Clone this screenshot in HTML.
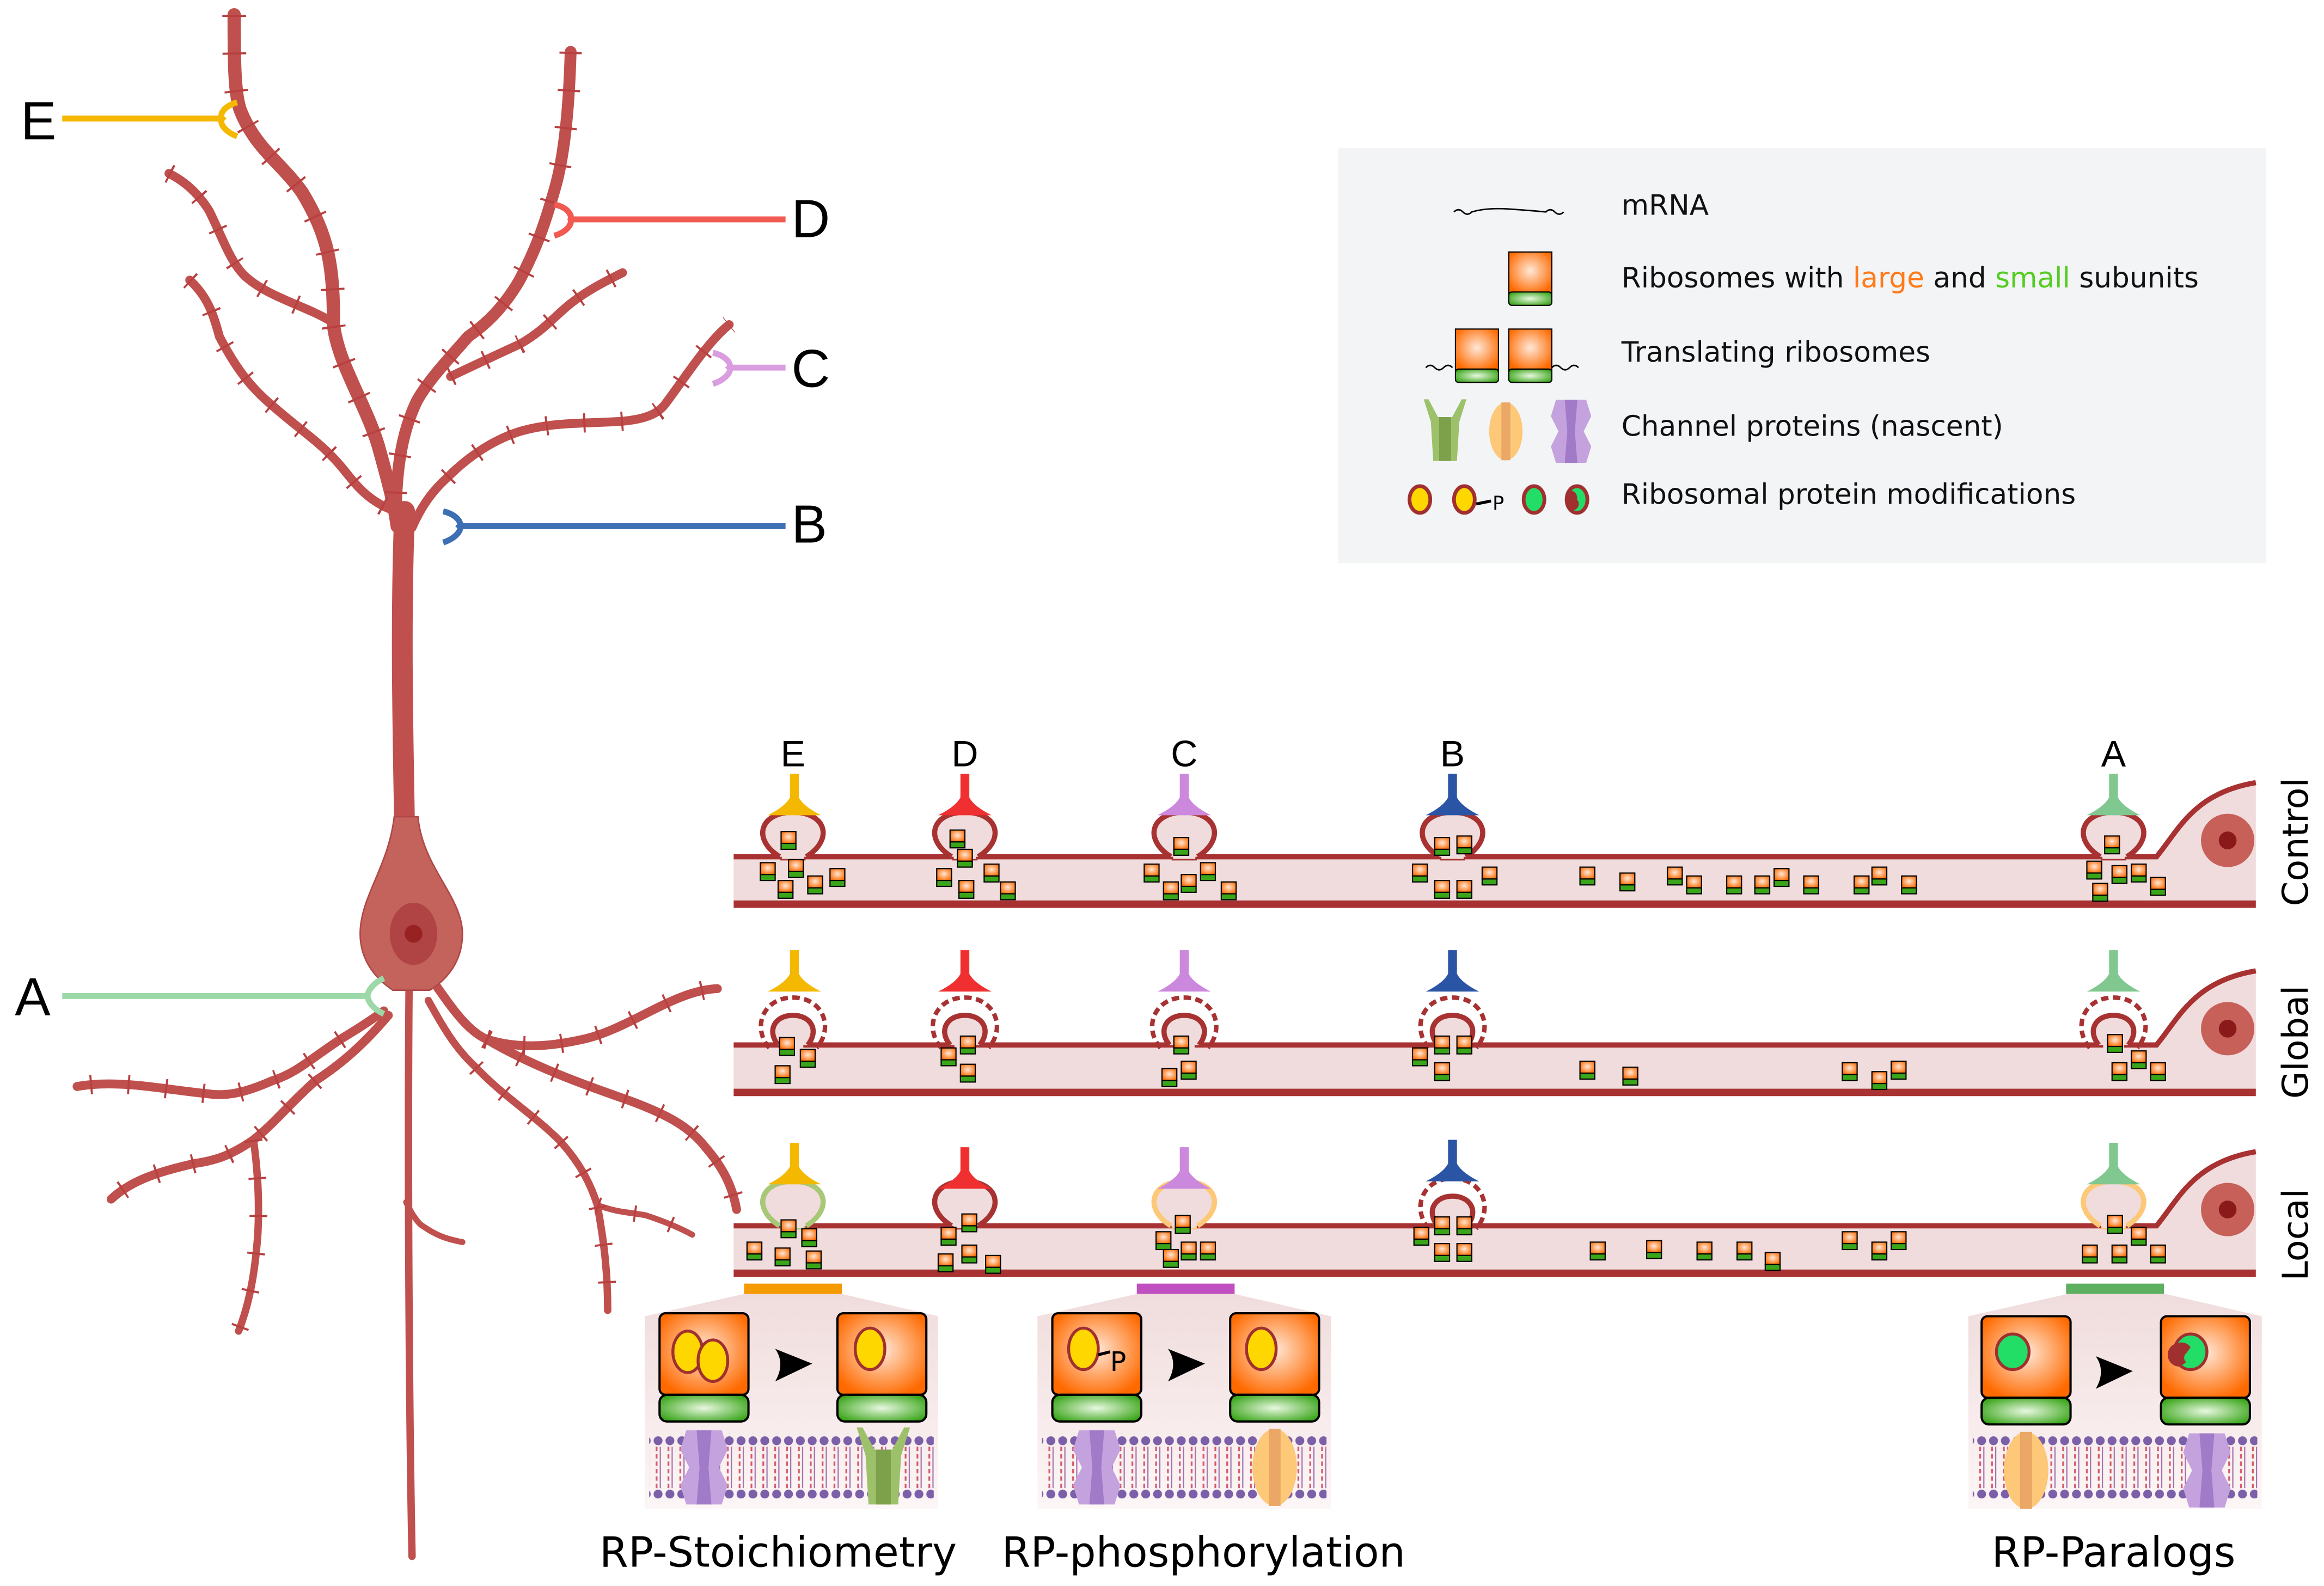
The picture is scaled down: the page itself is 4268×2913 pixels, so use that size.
<!DOCTYPE html>
<html><head><meta charset="utf-8"><style>html,body{margin:0;padding:0;background:#fff}svg{display:block}</style></head>
<body>
<svg width="4268" height="2913" viewBox="0 0 1568 1070" preserveAspectRatio="none" xmlns="http://www.w3.org/2000/svg" font-family="DejaVu Sans, Liberation Sans, sans-serif">
<defs>
<radialGradient id="og" cx="0.5" cy="0.45" r="0.6"><stop offset="0" stop-color="#ffe8d8"/><stop offset="1" stop-color="#ff6a00"/></radialGradient>
<radialGradient id="gg" cx="0.5" cy="0.5" r="0.6"><stop offset="0" stop-color="#e8f8e0"/><stop offset="1" stop-color="#3aa51a"/></radialGradient>
<g id="r"><rect x="-5" y="-6" width="10" height="8" fill="url(#og)" stroke="#000" stroke-width="0.8"/><rect x="-5" y="2" width="10" height="4" fill="#3aa51a" stroke="#000" stroke-width="0.8"/></g>
<g id="bigr"><rect x="0" y="0" width="60" height="55" rx="4" fill="url(#og)" stroke="#000" stroke-width="1.5"/><rect x="0" y="55" width="60" height="18" rx="5" fill="url(#gg)" stroke="#000" stroke-width="1.5"/></g>
<g id="purp"><path d="M-12,-25 L12,-25 L16,-12 L10,0 L16,12 L12,25 L-12,25 L-16,12 L-10,0 L-16,-12 Z" fill="#c4a2de"/><path d="M-5,-25 L5,-25 L3,0 L5,25 L-5,25 L-3,0Z" fill="#a17ac8"/></g>
<g id="grn"><path d="M-18,-27 L-12,-8 L-10,25 L10,25 L12,-8 L18,-27 L14,-27 L6,-12 L-6,-12 L-14,-27Z" fill="#9dc06a"/><rect x="-5" y="-12" width="10" height="37" fill="#7da04a"/></g>
<g id="orn"><ellipse cx="0" cy="0" rx="15" ry="26" fill="#fdc877"/><rect x="-4" y="-26" width="8" height="52" fill="#eba766"/></g>
<pattern id="mem" x="0" y="0" width="8" height="44" patternUnits="userSpaceOnUse"><circle cx="4" cy="4" r="3" fill="#7b5fa8"/><line x1="3" y1="8" x2="3" y2="36" stroke="#d45a6a" stroke-width="1.2" stroke-dasharray="3 2"/><line x1="5.5" y1="8" x2="5.5" y2="36" stroke="#a070b0" stroke-width="0.8"/><circle cx="4" cy="40" r="3" fill="#7b5fa8"/></pattern>
</defs>

<!-- Neuron -->
<g fill="none" stroke="#c0504d" stroke-linecap="round">
<path d="M158,10 C158,40 158,62 162,74 C172,100 190,110 204,130 C222,160 225,180 225,219 C228,245 246,271 255,300 C262,325 266,340 268,355" stroke-width="9"/>
<path d="M114,117 C128,124 136,134 141,142 C150,160 155,176 165,186 C180,200 205,206 222,216" stroke-width="6"/>
<path d="M128,189 C140,200 144,212 148,227 C160,250 170,262 183,273 C200,288 215,298 225,309 C236,320 242,334 262,343" stroke-width="6"/>
<path d="M385,35 C384,70 381,103 375,125 C368,150 362,168 350,190 C338,210 326,220 316,227 C300,245 288,258 281,271 C272,290 267,314 267,351" stroke-width="8"/>
<path d="M304,254 C325,244 338,238 351,232 C365,224 372,216 380,209 C392,198 408,190 420,184" stroke-width="6"/>
<path d="M278,356 C285,340 293,330 302,322 C318,306 335,296 351,291 C375,284 400,286 422,284 C440,282 446,277 450,271 C462,255 478,230 492,219" stroke-width="6"/>
<path d="M273,560 C272,500 270,420 273,345" stroke-width="14"/>
<path d="M259,682 C245,692 238,696 230,701 C210,714 200,724 184,729 C168,736 155,740 141,738 C110,735 80,728 52,733" stroke-width="6"/>
<path d="M262,685 C245,705 230,718 213,729 C195,745 185,758 171,769 C155,780 145,783 131,785 C110,790 90,795 75,809" stroke-width="6"/>
<path d="M171,769 C174,790 175,812 174,832 C172,860 168,880 161,898" stroke-width="5"/>
<path d="M295,666 C305,680 315,695 328,701 C350,708 372,706 394,701 C425,694 455,668 484,667" stroke-width="6"/>
<path d="M328,701 C360,720 395,732 426,743 C450,752 465,760 476,774 C488,788 494,800 497,816" stroke-width="6"/>
<path d="M289,675 C300,695 308,708 321,720 C340,740 360,752 377,769 C390,783 398,797 403,813 C408,840 410,860 410,884" stroke-width="5"/>
<path d="M403,813 C416,818 426,818 436,820 C448,824 458,828 467,833" stroke-width="4"/>
<path d="M274,811 C278,820 283,826 285,827 C295,834 302,836 312,838" stroke-width="4"/>
<path d="M276,666 C275,780 276,950 278,1050" stroke-width="5"/>
</g>
<g fill="none" stroke="#b84040" stroke-width="13" stroke-dasharray="1.4 24">
<path d="M158,10 C158,40 158,62 162,74 C172,100 190,110 204,130 C222,160 225,180 225,219 C228,245 246,271 255,300" stroke-width="16"/>
<path d="M114,117 C128,124 136,134 141,142 C150,160 155,176 165,186 C180,200 205,206 222,216"/>
<path d="M128,189 C140,200 144,212 148,227 C160,250 170,262 183,273 C200,288 215,298 225,309 C236,320 242,334 262,343"/>
<path d="M385,35 C384,70 381,103 375,125 C368,150 362,168 350,190 C338,210 326,220 316,227 C300,245 288,258 281,271 C272,290 267,314 267,340" stroke-width="15"/>
<path d="M304,254 C325,244 338,238 351,232 C365,224 372,216 380,209 C392,198 408,190 420,184"/>
<path d="M302,322 C318,306 335,296 351,291 C375,284 400,286 422,284 C440,282 446,277 450,271 C462,255 478,230 492,219"/>
<path d="M230,701 C210,714 200,724 184,729 C168,736 155,740 141,738 C110,735 80,728 52,733"/>
<path d="M213,729 C195,745 185,758 171,769 C155,780 145,783 131,785 C110,790 90,795 75,809"/>
<path d="M171,769 C174,790 175,812 174,832 C172,860 168,880 161,898" stroke-width="12"/>
<path d="M328,701 C350,708 372,706 394,701 C425,694 455,668 484,667"/>
<path d="M328,701 C360,720 395,732 426,743 C450,752 465,760 476,774 C488,788 494,800 497,816"/>
<path d="M321,720 C340,740 360,752 377,769 C390,783 398,797 403,813 C408,840 410,860 410,884" stroke-width="12"/>
<path d="M403,813 C416,818 426,818 436,820 C448,824 458,828 467,833" stroke-width="11"/>
</g>
<path d="M266,551 C262,585 243,605 243,630 C243,650 256,662 265,668 L290,668 C300,662 312,650 312,630 C312,605 285,585 282,551 Z" fill="#c4625c" stroke="#b04848" stroke-width="1"/>
<ellipse cx="279" cy="630" rx="16" ry="21" fill="#b04444"/><circle cx="279" cy="630" r="6" fill="#982222"/>

<!-- Inputs -->
<g fill="none" stroke-width="4">
<path d="M42,80 H150" stroke="#f5b800"/><path d="M160,69 C150,72 148,78 150,80 C148,82 150,88 160,92" stroke="#f5b800"/>
<path d="M385,148 H530" stroke="#f05a50"/><path d="M374,138 C384,140 386,146 385,148 C386,150 384,156 374,159" stroke="#f05a50"/>
<path d="M492,248 H530" stroke="#d99de0"/><path d="M481,238 C490,240 494,246 492,248 C494,250 490,256 481,259" stroke="#d99de0"/>
<path d="M310,355 H530" stroke="#3d6fb5"/><path d="M299,345 C308,347 312,353 310,355 C312,357 308,363 299,366" stroke="#3d6fb5"/>
<path d="M42,672 H248" stroke="#9dd8a8"/><path d="M259,660 C250,664 248,670 248,672 C248,674 250,680 259,684" stroke="#9dd8a8"/>
</g>
<g font-family="Liberation Sans, sans-serif" font-size="36" fill="#000">
<text x="14" y="94">E</text><text x="534" y="160">D</text><text x="534" y="261">C</text><text x="534" y="366">B</text><text x="10" y="685">A</text>
</g>

<!-- Legend -->
<rect x="903" y="100" width="626" height="280" fill="#f3f4f6"/>
<path d="M981,143 q3,-3 6,0 t6,0 q10,-3 25,-2 q15,1 25,2 q3,-3 6,0 t6,0" fill="none" stroke="#000" stroke-width="1"/>
<rect x="1018" y="170" width="29" height="28" fill="url(#og)" stroke="#000" stroke-width="0.8"/><rect x="1018" y="197" width="29" height="9" rx="2" fill="url(#gg)" stroke="#000" stroke-width="0.8"/>
<rect x="982" y="222" width="29" height="28" fill="url(#og)" stroke="#000" stroke-width="0.8"/><rect x="982" y="249" width="29" height="9" rx="2" fill="url(#gg)" stroke="#000" stroke-width="0.8"/>
<rect x="1018" y="222" width="29" height="28" fill="url(#og)" stroke="#000" stroke-width="0.8"/><rect x="1018" y="249" width="29" height="9" rx="2" fill="url(#gg)" stroke="#000" stroke-width="0.8"/>
<path d="M962,248 q3,-3 6,0 t6,0 t6,0 M1047,248 q3,-3 6,0 t6,0 t6,0" fill="none" stroke="#000" stroke-width="1"/>
<g transform="translate(975,291) scale(0.8)"><use href="#grn"/></g>
<g transform="translate(1016,291) scale(0.75)"><use href="#orn"/></g>
<g transform="translate(1060,291) scale(0.85)"><use href="#purp"/></g>
<g stroke="#a03030" stroke-width="2.5"><ellipse cx="958" cy="337" rx="7" ry="9" fill="#ffd700"/><ellipse cx="988" cy="337" rx="7" ry="9" fill="#ffd700"/><ellipse cx="1035" cy="337" rx="7" ry="9" fill="#22dd66"/><ellipse cx="1064" cy="337" rx="7" ry="9" fill="#22dd66"/></g>
<path d="M1058,331 a5,5 0 0 1 6,6 a4,4 0 0 1 -6,6 z" fill="#a03030"/>
<path d="M996,340 L1006,338" stroke="#000" stroke-width="2"/><text x="1007" y="344" font-size="13">P</text>
<g font-size="19" fill="#111">
<text x="1094" y="145">mRNA</text>
<text x="1094" y="194">Ribosomes with <tspan fill="#ff7a1a">large</tspan> and <tspan fill="#55cc22">small</tspan> subunits</text>
<text x="1094" y="244">Translating ribosomes</text>
<text x="1094" y="294">Channel proteins (nascent)</text>
<text x="1094" y="340">Ribosomal protein modifications</text>
</g>

<!-- Strips -->
<g id="strip">
<rect x="495" y="578" width="1000" height="32" fill="#f0dcdc"/>
<path d="M1455,578 C1470,560 1480,535 1522,528 L1522,610 L1455,610Z" fill="#f0dcdc"/>
<path d="M495,578 H1455 C1470,560 1480,535 1522,528" fill="none" stroke="#a83232" stroke-width="3.5"/>
<line x1="495" y1="610" x2="1522" y2="610" stroke="#a83232" stroke-width="5"/>
<circle cx="1503" cy="567" r="18" fill="#c8605a"/><circle cx="1503" cy="567" r="6" fill="#8a1a1a"/>
</g>
<use href="#strip" y="127"/>
<use href="#strip" y="249"/>
<g font-size="24" fill="#000" font-family="DejaVu Sans, sans-serif">
<text transform="translate(1557,568) rotate(-90)" text-anchor="middle">Control</text>
<text transform="translate(1557,703) rotate(-90)" text-anchor="middle">Global</text>
<text transform="translate(1557,833) rotate(-90)" text-anchor="middle">Local</text>
</g>
<g font-family="Liberation Sans, sans-serif" font-size="25" text-anchor="middle">
<text x="535" y="517">E</text><text x="651" y="517">D</text><text x="799" y="517">C</text><text x="980" y="517">B</text><text x="1426" y="517">A</text>
</g>

<defs>
<g id="sp"><rect x="-8" y="-4" width="16" height="6" fill="#f0dcdc"/><path d="M-9,0 C-28,-12 -22,-30 0,-30 C22,-30 28,-12 9,0" fill="#f0dcdc" stroke-width="3.5"/></g>
<g id="spg"><rect x="-7" y="-4" width="14" height="6" fill="#f0dcdc"/><path d="M-10,0 C-18,-10 -12,-20 0,-20 C12,-20 18,-10 10,0" fill="#f0dcdc" stroke="#a83232" stroke-width="3.5"/><path d="M-16,2 C-28,-12 -20,-32 0,-32 C20,-32 28,-12 16,2" fill="none" stroke="#a83232" stroke-width="3" stroke-dasharray="5 3"/></g>
<path id="pre" d="M-3,-56 L3,-56 L3,-40 Q6,-34 18,-28 L-18,-28 Q-6,-34 -3,-40Z"/>
</defs>
<g stroke="#a83232"><use href="#sp" x="535" y="578"/><use href="#sp" x="651" y="578"/><use href="#sp" x="799" y="578"/><use href="#sp" x="980" y="578"/><use href="#sp" x="1426" y="578"/></g>
<use href="#pre" x="536" y="578" fill="#f5b800"/><use href="#pre" x="651" y="578" fill="#f03030"/><use href="#pre" x="799" y="578" fill="#cc88dd"/><use href="#pre" x="980" y="578" fill="#2a55a5"/><use href="#pre" x="1426" y="578" fill="#80c890"/>
<use href="#spg" x="535" y="705"/><use href="#spg" x="651" y="705"/><use href="#spg" x="799" y="705"/><use href="#spg" x="980" y="705"/><use href="#spg" x="1426" y="705"/>
<use href="#pre" x="536" y="697" fill="#f5b800"/><use href="#pre" x="651" y="697" fill="#f03030"/><use href="#pre" x="799" y="697" fill="#cc88dd"/><use href="#pre" x="980" y="697" fill="#2a55a5"/><use href="#pre" x="1426" y="697" fill="#80c890"/>
<use href="#sp" x="535" y="827" stroke="#a8c878"/><use href="#sp" x="651" y="827" stroke="#a83232"/><use href="#sp" x="799" y="827" stroke="#fdc877"/><use href="#spg" x="980" y="827"/><use href="#sp" x="1426" y="827" stroke="#fdc877"/>
<use href="#pre" x="536" y="827" fill="#f5b800"/><use href="#pre" x="651" y="830" fill="#f03030"/><use href="#pre" x="799" y="830" fill="#cc88dd"/><use href="#pre" x="980" y="825" fill="#2a55a5"/><use href="#pre" x="1426" y="827" fill="#80c890"/>

<g>
<use href="#r" x="532" y="567"/><use href="#r" x="518" y="588"/><use href="#r" x="537" y="586"/><use href="#r" x="530" y="600"/><use href="#r" x="550" y="597"/><use href="#r" x="565" y="592"/>
<use href="#r" x="646" y="566"/><use href="#r" x="651" y="579"/><use href="#r" x="637" y="592"/><use href="#r" x="652" y="600"/><use href="#r" x="669" y="589"/><use href="#r" x="680" y="601"/>
<use href="#r" x="797" y="571"/><use href="#r" x="777" y="589"/><use href="#r" x="790" y="601"/><use href="#r" x="802" y="596"/><use href="#r" x="815" y="588"/><use href="#r" x="829" y="601"/>
<use href="#r" x="973" y="571"/><use href="#r" x="988" y="570"/><use href="#r" x="958" y="589"/><use href="#r" x="973" y="600"/><use href="#r" x="988" y="600"/><use href="#r" x="1005" y="591"/>
<use href="#r" x="1071" y="591"/><use href="#r" x="1098" y="595"/><use href="#r" x="1130" y="591"/><use href="#r" x="1143" y="597"/><use href="#r" x="1170" y="597"/><use href="#r" x="1189" y="597"/><use href="#r" x="1202" y="592"/><use href="#r" x="1222" y="597"/><use href="#r" x="1256" y="597"/><use href="#r" x="1268" y="591"/><use href="#r" x="1288" y="597"/>
<use href="#r" x="1425" y="570"/><use href="#r" x="1413" y="587"/><use href="#r" x="1430" y="590"/><use href="#r" x="1443" y="589"/><use href="#r" x="1417" y="602"/><use href="#r" x="1456" y="598"/>
<use href="#r" x="531" y="706"/><use href="#r" x="545" y="714"/><use href="#r" x="528" y="725"/>
<use href="#r" x="640" y="713"/><use href="#r" x="653" y="705"/><use href="#r" x="653" y="724"/>
<use href="#r" x="797" y="705"/><use href="#r" x="789" y="727"/><use href="#r" x="802" y="722"/>
<use href="#r" x="958" y="713"/><use href="#r" x="973" y="705"/><use href="#r" x="988" y="705"/><use href="#r" x="973" y="723"/>
<use href="#r" x="1071" y="722"/><use href="#r" x="1100" y="726"/><use href="#r" x="1248" y="723"/><use href="#r" x="1268" y="729"/><use href="#r" x="1281" y="722"/>
<use href="#r" x="1427" y="704"/><use href="#r" x="1443" y="715"/><use href="#r" x="1430" y="723"/><use href="#r" x="1456" y="723"/>
<use href="#r" x="532" y="829"/><use href="#r" x="546" y="835"/><use href="#r" x="509" y="844"/><use href="#r" x="528" y="848"/><use href="#r" x="549" y="850"/>
<use href="#r" x="654" y="825"/><use href="#r" x="640" y="834"/><use href="#r" x="654" y="846"/><use href="#r" x="638" y="852"/><use href="#r" x="670" y="853"/>
<use href="#r" x="798" y="826"/><use href="#r" x="785" y="837"/><use href="#r" x="802" y="844"/><use href="#r" x="815" y="844"/><use href="#r" x="790" y="849"/>
<use href="#r" x="959" y="834"/><use href="#r" x="973" y="827"/><use href="#r" x="988" y="827"/><use href="#r" x="973" y="845"/><use href="#r" x="988" y="845"/>
<use href="#r" x="1078" y="844"/><use href="#r" x="1116" y="843"/><use href="#r" x="1150" y="844"/><use href="#r" x="1177" y="844"/><use href="#r" x="1196" y="851"/><use href="#r" x="1248" y="837"/><use href="#r" x="1268" y="844"/><use href="#r" x="1281" y="837"/>
<use href="#r" x="1427" y="826"/><use href="#r" x="1443" y="834"/><use href="#r" x="1410" y="846"/><use href="#r" x="1430" y="846"/><use href="#r" x="1456" y="846"/>
</g>

<rect x="502" y="866" width="66" height="7" fill="#f59a00"/>
<rect x="767" y="866" width="66" height="7" fill="#c050c0"/>
<rect x="1394" y="866" width="66" height="7" fill="#5cb060"/>
<g id="panel">
<defs><linearGradient id="pg" x1="0" y1="0" x2="0" y2="1"><stop offset="0" stop-color="#f0dcdc"/><stop offset="1" stop-color="#fdf6f6"/></linearGradient></defs>
<path d="M502,873 L568,873 L633,888 L633,1018 L435,1018 L435,888 Z" fill="url(#pg)"/>
<rect x="438" y="967" width="192" height="44" fill="url(#mem)"/>
</g>
<use href="#panel" x="265"/>
<use href="#panel" x="893"/>
<use href="#bigr" x="445" y="886"/><use href="#bigr" x="565" y="886"/>
<path d="M523,910 L548,920 L523,932 Q530,920 523,910Z" fill="#000"/>
<g stroke="#a03030" stroke-width="2"><ellipse cx="464" cy="912" rx="10" ry="14" fill="#ffd700"/><ellipse cx="481" cy="918" rx="10" ry="14" fill="#ffd700"/><ellipse cx="587" cy="910" rx="10" ry="14" fill="#ffd700"/></g>
<use href="#purp" x="475" y="990"/><use href="#grn" x="596" y="990"/>
<use href="#bigr" x="710" y="886"/><use href="#bigr" x="830" y="886"/>
<path d="M788,910 L813,920 L788,932 Q795,920 788,910Z" fill="#000"/>
<g stroke="#a03030" stroke-width="2"><ellipse cx="731" cy="910" rx="10" ry="14" fill="#ffd700"/><ellipse cx="851" cy="910" rx="10" ry="14" fill="#ffd700"/></g>
<path d="M741,914 L749,912" stroke="#000" stroke-width="2"/><text x="749" y="925" font-size="18">P</text>
<use href="#purp" x="740" y="990"/><use href="#orn" x="860" y="990"/>
<use href="#bigr" x="1337" y="888"/><use href="#bigr" x="1458" y="888"/>
<path d="M1414,915 L1439,925 L1414,937 Q1421,925 1414,915Z" fill="#000"/>
<g stroke="#a03030" stroke-width="2"><ellipse cx="1358" cy="912" rx="11" ry="12" fill="#22dd66"/><ellipse cx="1478" cy="912" rx="11" ry="12" fill="#22dd66"/></g>
<path d="M1470,906 a7,7 0 0 1 8,3 l-3,4 a4,4 0 0 0 0,6 l-4,3 a8,8 0 0 1 -1,-16z" fill="#a03030"/>
<use href="#orn" x="1367" y="992"/><use href="#purp" x="1489" y="992"/>

<g font-size="28" fill="#000" text-anchor="middle">
<text x="525" y="1057">RP-Stoichiometry</text>
<text x="812" y="1057">RP-phosphorylation</text>
<text x="1426" y="1057">RP-Paralogs</text>
</g>
</svg>
</body></html>
